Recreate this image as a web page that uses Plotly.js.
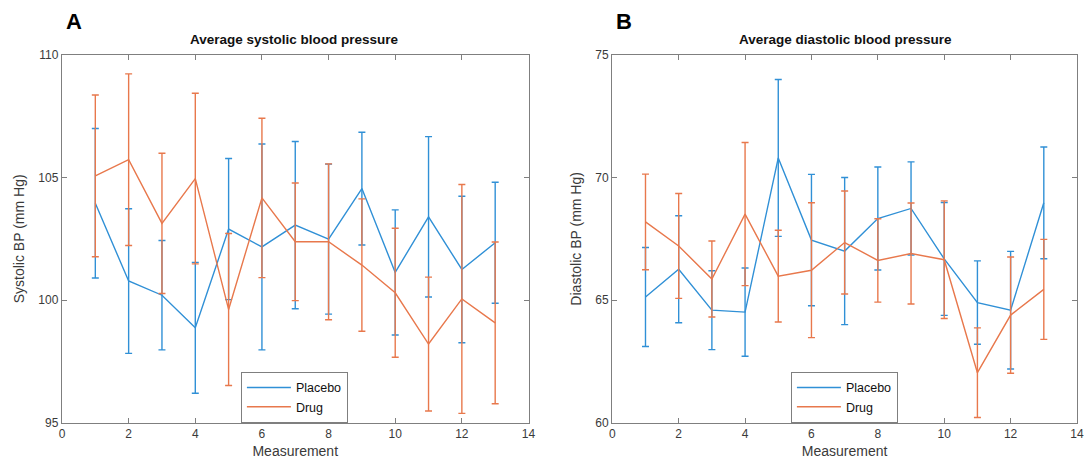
<!DOCTYPE html>
<html>
<head>
<meta charset="utf-8">
<script src="https://cdn.plot.ly/plotly-3.0.1.min.js"></script>
<style>html,body{margin:0;padding:0;background:#fff;}#chart{width:1086px;height:463px;}</style>
</head>
<body>
<div id="chart"></div>
<script>
const measurement = [1,2,3,4,5,6,7,8,9,10,11,12,13];

const sysPlacebo    = [103.95,100.78,100.2,98.87,102.9,102.17,103.06,102.49,104.55,101.13,103.4,101.25,102.34];
const sysPlaceboErr = [3.05,2.95,2.23,2.67,2.88,4.2,3.41,3.06,2.3,2.55,3.27,2.99,2.47];
const sysDrug       = [105.07,105.73,103.13,104.96,99.62,104.17,102.38,102.38,101.43,100.3,98.21,100.05,99.07];
const sysDrugErr    = [3.3,3.5,2.86,3.48,3.1,3.25,2.4,3.18,2.7,2.63,2.73,4.67,3.3];

const diaPlacebo    = [65.13,66.26,64.59,64.51,70.8,67.45,67.0,68.33,68.74,66.68,64.9,64.59,68.97];
const diaPlaceboErr = [2.02,2.18,1.61,1.8,3.2,2.68,3.0,2.1,1.9,2.3,1.7,2.4,2.28];
const diaDrug       = [68.19,67.21,65.86,68.51,65.98,66.22,67.35,66.62,66.9,66.65,62.04,64.39,65.44];
const diaDrugErr    = [1.95,2.14,1.55,2.92,1.87,2.75,2.1,1.7,2.06,2.4,1.83,2.37,2.04];

const seriesNames = ['Placebo','Drug'];
const panelTitles = ['Average systolic blood pressure','Average diastolic blood pressure'];
const yTitles = ['Systolic BP (mm Hg)','Diastolic BP (mm Hg)'];
const xTitle = 'Measurement';
const panelLabels = ['A','B'];

const BLUE = '#3090d6';
const ORANGE = '#e8784c';
const FRAME = '#7f7f7f';
const TXT = '#3a3a3a';
const FONT = 'Liberation Sans, Arial, sans-serif';

function tr(y, err, name, color, xa, ya, leg) {
  return {
    x: measurement, y: y, name: name, type: 'scatter', mode: 'lines',
    line: {color: color, width: 1.4},
    error_y: {type: 'data', array: err, visible: true, color: color, thickness: 1.4, width: 3.5},
    xaxis: xa, yaxis: ya, legend: leg, hoverinfo: 'x+y'
  };
}

const data = [
  tr(sysPlacebo, sysPlaceboErr, seriesNames[0], BLUE, 'x', 'y', 'legend'),
  tr(sysDrug, sysDrugErr, seriesNames[1], ORANGE, 'x', 'y', 'legend'),
  tr(diaPlacebo, diaPlaceboErr, seriesNames[0], BLUE, 'x2', 'y2', 'legend2'),
  tr(diaDrug, diaDrugErr, seriesNames[1], ORANGE, 'x2', 'y2', 'legend2')
];

const yDom = [40.3/463, 408/463];
function xaxis(dom, anchor) {
  return {
    domain: dom, anchor: anchor, range: [0,14], dtick: 2, tick0: 0,
    showgrid: false, zeroline: false, showline: true, mirror: 'ticks',
    linecolor: FRAME, linewidth: 1.2, ticks: 'inside', ticklen: 5, tickcolor: FRAME, tickwidth: 1,
    tickfont: {family: FONT, size: 12, color: TXT},
    title: {text: xTitle, font: {family: FONT, size: 14, color: TXT}, standoff: 6},
    automargin: false
  };
}
function yaxis(range, dtick, anchor, title) {
  return {
    domain: yDom, anchor: anchor, range: range, dtick: dtick,
    showgrid: false, zeroline: false, showline: true, mirror: 'ticks',
    linecolor: FRAME, linewidth: 1.2, ticks: 'inside', ticklen: 5, tickcolor: FRAME, tickwidth: 1,
    tickfont: {family: FONT, size: 12, color: TXT},
    title: {text: title, font: {family: FONT, size: 14, color: TXT}, standoff: 10},
    automargin: false
  };
}
function legend(x) {
  return {
    x: x, y: (463-371.7)/463, xanchor: 'left', yanchor: 'top',
    bgcolor: '#ffffff', bordercolor: FRAME, borderwidth: 1.2,
    font: {family: FONT, size: 12.5, color: '#111'},
    tracegroupgap: 0, itemwidth: 44
  };
}

const layout = {
  width: 1086, height: 463,
  margin: {l: 0, r: 0, t: 0, b: 0},
  paper_bgcolor: '#fff', plot_bgcolor: '#fff',
  showlegend: true,
  xaxis: xaxis([62/1086, 528.5/1086], 'y'),
  yaxis: yaxis([95,110], 5, 'x', yTitles[0]),
  xaxis2: xaxis([612.3/1086, 1077/1086], 'y2'),
  yaxis2: yaxis([60,75], 5, 'x2', yTitles[1]),
  legend: legend(240.7/1086),
  legend2: legend(790.7/1086),
  annotations: [
    {text: '<b>' + panelTitles[0] + '</b>', x: 295/1086, y: (463-40)/463, xref: 'paper', yref: 'paper',
     xanchor: 'center', yanchor: 'middle', showarrow: false, font: {family: FONT, size: 13.5, color: '#111'}},
    {text: '<b>' + panelTitles[1] + '</b>', x: 845/1086, y: (463-40)/463, xref: 'paper', yref: 'paper',
     xanchor: 'center', yanchor: 'middle', showarrow: false, font: {family: FONT, size: 13.5, color: '#111'}},
    {text: '<b>' + panelLabels[0] + '</b>', x: 64/1086, y: (463-21)/463, xref: 'paper', yref: 'paper',
     xanchor: 'left', yanchor: 'middle', showarrow: false, font: {family: FONT, size: 22, color: '#000'}},
    {text: '<b>' + panelLabels[1] + '</b>', x: 614/1086, y: (463-21)/463, xref: 'paper', yref: 'paper',
     xanchor: 'left', yanchor: 'middle', showarrow: false, font: {family: FONT, size: 22, color: '#000'}}
  ]
};

Plotly.newPlot('chart', data, layout, {displayModeBar: false, staticPlot: true});
</script>
</body>
</html>
